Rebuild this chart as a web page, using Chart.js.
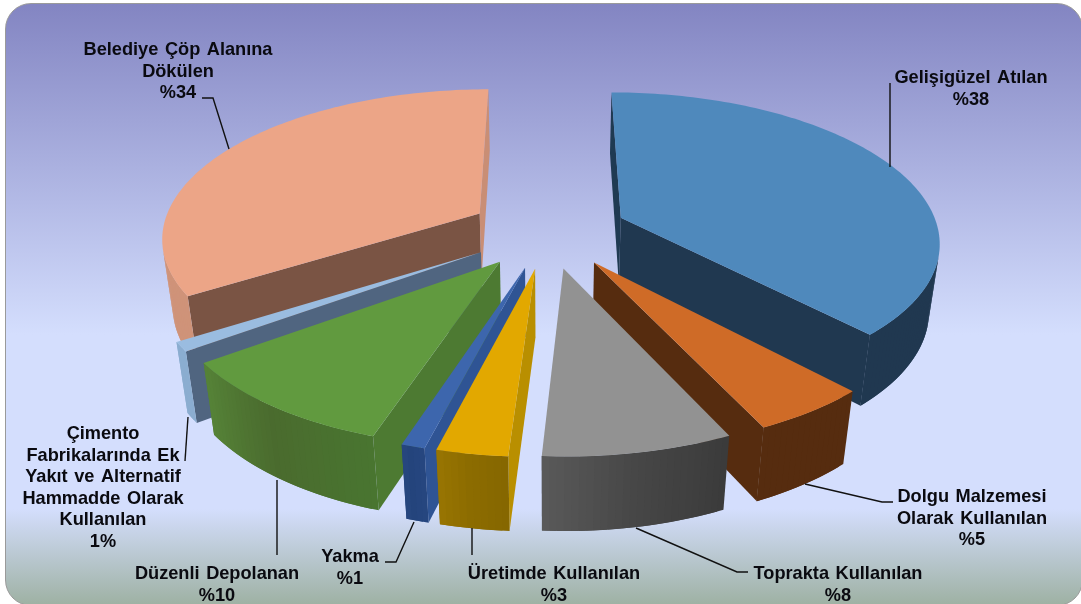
<!DOCTYPE html>
<html>
<head>
<meta charset="utf-8">
<script src="https://cdn.jsdelivr.net/npm/chart.js@4"></script>
<style>
body { margin: 0; background: #fff; width: 1081px; height: 604px; overflow: hidden; position: relative; }
#panel {
    position: absolute; left: 5px; top: 3px; width: 1078px; height: 603px; box-sizing: border-box;
    border: 1.5px solid #9a9a9a; border-radius: 26px;
    background: linear-gradient(#8385c2 0%, #b3bae6 33%, #d4defd 55%, #d4defd 84%, #9eb1a3 100%);
}
canvas { position: absolute; left: 0; top: 0; }
</style>
</head>
<body>
<div id="panel"></div>
<canvas id="myChart" width="1081" height="604"></canvas>
<script>
const categories = [
    ['Gelişigüzel Atılan'],
    ['Dolgu Malzemesi', 'Olarak Kullanılan'],
    ['Toprakta Kullanılan'],
    ['Üretimde Kullanılan'],
    ['Yakma'],
    ['Düzenli Depolanan'],
    ['Çimento', 'Fabrikalarında Ek', 'Yakıt ve Alternatif', 'Hammadde Olarak', 'Kullanılan'],
    ['Belediye Çöp Alanına', 'Dökülen']
];
const values = [38, 5, 8, 3, 1, 10, 1, 34];
const valueLabels = ['%38', '%5', '%8', '%3', '%1', '%10', '1%', '%34'];

const topColors = ['#4f89bc', '#cf6b27', '#929292', '#e2a800', '#3d66ad', '#619a3f', '#9abce0', '#eca587'];
// outer wall colour at slice start, middle, end
const outerColors = [
    ['#203850', '#203850', '#203850'],
    ['#562c0f', '#562c0f', '#562c0f'],
    ['#3b3b3b', '#474747', '#5a5a5a'],
    ['#866700', '#8c6c00', '#9a7602'],
    ['#26467f', '#24447c', '#27477f'],
    ['#497530', '#4a6b2e', '#568438'],
    ['#8badd0', '#8badd0', '#8badd0'],
    ['#cf9379', '#cf9379', '#c98e75']
];
const startWallColors = ['#1f3a52', '#562c0f', '#4a4a4a', '#b98f00', '#2f5494', '#4d7a32', '#506580', '#7a5444'];
const endWallColors = ['#203850', '#562c0f', '#4a4a4a', '#b98f00', '#2f5494', '#4d7a32', '#506580', '#c98e75'];

// label centre x, first baseline
const labelX = [971, 972, 838, 554, 350, 217, 103, 178];
const labelY = [83, 502, 579, 579, 562, 579, 439, 55];
const leaders = [
    [[890, 83], [890, 167]],
    [[805, 484], [882, 502], [893, 502]],
    [[636, 528], [737, 572], [748, 572]],
    [[472, 528], [472, 555]],
    [[414, 522], [396, 562], [385, 562]],
    [[277, 480], [277, 555]],
    [[188, 417], [185, 461]],
    [[229, 149], [213, 98], [202, 98]]
];

// fake perspective for the flat pie
const view = { cx: 548, cy: 231, radius: 318, tilt: 0.464, persp: 0.000468, depth: 69, depthPersp: 0.0004 };

function project(u, v, z) {
    const s = 1 / (1 - view.persp * v + view.depthPersp * z);
    return [view.cx + u * s, view.cy + (v * view.tilt + z) * s];
}

function hexToRgb(hex) {
    return [1, 3, 5].map(i => parseInt(hex.substr(i, 2), 16));
}

function mixStops(stops, t) {
    const pos = t * (stops.length - 1);
    const i = Math.min(Math.floor(pos), stops.length - 2);
    const a = hexToRgb(stops[i]);
    const b = hexToRgb(stops[i + 1]);
    const f = pos - i;
    return 'rgb(' + a.map((c, n) => Math.round(c + (b[n] - c) * f)).join(',') + ')';
}

function area(q) {
    let sum = 0;
    for (let i = 0; i < q.length; i++) {
        const a = q[i];
        const b = q[(i + 1) % q.length];
        sum += a[0] * b[1] - b[0] * a[1];
    }
    return sum;
}

function fillPoly(ctx, pts, color) {
    ctx.beginPath();
    pts.forEach((p, i) => (i ? ctx.lineTo(p[0], p[1]) : ctx.moveTo(p[0], p[1])));
    ctx.closePath();
    ctx.fillStyle = color;
    ctx.fill();
}

function wallQuad(a, b) {
    return [
        project(a[0], a[1], 0), project(b[0], b[1], 0),
        project(b[0], b[1], view.depth), project(a[0], a[1], view.depth)
    ];
}

function drawWall(ctx, a, b, color) {
    const q = wallQuad(a, b);
    if (area(q) < 0) fillPoly(ctx, q, color);
}

function drawSlice(ctx, arc, i) {
    const p = arc.getProps(['startAngle', 'endAngle', 'outerRadius']);
    const scale = view.radius / p.outerRadius;
    const start = p.startAngle;
    const end = p.endAngle;
    const mid = (start + end) / 2;
    const off = arc.options.offset * scale;
    const ox = Math.cos(mid) * off;
    const oy = Math.sin(mid) * off;
    const apex = [ox, oy];
    const steps = Math.max(4, Math.ceil((end - start) / 0.02));
    const rim = [];
    for (let n = 0; n <= steps; n++) {
        const a = start + (end - start) * n / steps;
        rim.push([ox + Math.cos(a) * view.radius, oy + Math.sin(a) * view.radius]);
    }

    drawWall(ctx, apex, rim[0], startWallColors[i]);
    drawWall(ctx, rim[steps], apex, endWallColors[i]);
    // each rim piece overlaps the next so no seams show
    for (let n = 0; n < steps; n++) {
        if (area(wallQuad(rim[n], rim[n + 1])) < 0) {
            const next = rim[Math.min(n + 2, steps)];
            fillPoly(ctx, wallQuad(rim[n], next), mixStops(outerColors[i], n / steps));
        }
    }
    fillPoly(ctx, [apex].concat(rim).map(r => project(r[0], r[1], 0)), topColors[i]);
}

const pie3d = {
    id: 'pie3d',
    beforeDatasetsDraw(chart) {
        const ctx = chart.ctx;
        const arcs = chart.getDatasetMeta(0).data;
        // far slices first
        const order = arcs.map((arc, i) => i).sort((a, b) => {
            const ma = (arcs[a].startAngle + arcs[a].endAngle) / 2;
            const mb = (arcs[b].startAngle + arcs[b].endAngle) / 2;
            return Math.sin(ma) - Math.sin(mb);
        });
        ctx.save();
        for (let i of order) drawSlice(ctx, arcs[i], i);
        ctx.restore();
        return false;
    },
    afterDraw(chart) {
        const ctx = chart.ctx;
        ctx.save();
        ctx.strokeStyle = '#111';
        ctx.lineWidth = 1.4;
        for (let line of leaders) {
            ctx.beginPath();
            line.forEach((p, n) => (n ? ctx.lineTo(p[0], p[1]) : ctx.moveTo(p[0], p[1])));
            ctx.stroke();
        }
        ctx.fillStyle = '#0a0a10';
        ctx.font = 'bold 18.2px "Liberation Sans"';
        ctx.textAlign = 'center';
        ctx.textBaseline = 'alphabetic';
        ctx.wordSpacing = '1.5px';
        categories.forEach((lines, i) => {
            lines.concat(valueLabels[i]).forEach((text, n) => {
                ctx.fillText(text, labelX[i], labelY[i] + n * 21.6);
            });
        });
        ctx.restore();
    }
};

const ctx = document.getElementById('myChart').getContext('2d');

const myChart = new Chart(ctx, {
    type: 'pie',
    data: {
        labels: categories.map(lines => lines.join(' ')),
        datasets: [
            {
                data: values,
                backgroundColor: topColors,
                borderWidth: 0,
                offset: 67
            }
        ]
    },
    options: {
        responsive: false,
        animation: false,
        rotation: 0,
        plugins: {
            legend: { display: false },
            tooltip: { enabled: false }
        }
    },
    plugins: [pie3d]
});
</script>
</body>
</html>
